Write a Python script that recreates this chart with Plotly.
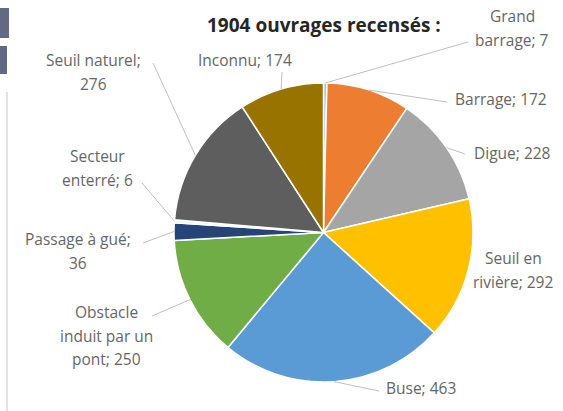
"""
Pie chart: 1904 ouvrages recensés, by type, with Excel-style outside labels.
"""

import math

import plotly.graph_objects as go

W, H = 563, 411

# ─── Data ────────────────────────────────────────────────────────────

categories = [
    "Grand barrage",
    "Barrage",
    "Digue",
    "Seuil en rivière",
    "Buse",
    "Obstacle induit par un pont",
    "Passage à gué",
    "Secteur enterré",
    "Seuil naturel",
    "Inconnu",
]
counts = [7, 172, 228, 292, 463, 250, 36, 6, 276, 174]
colors = [
    "#9DC3E6",
    "#ED7D31",
    "#A5A5A5",
    "#FFC000",
    "#5B9BD5",
    "#70AD47",
    "#264478",
    "#F2F2F2",
    "#5E5E5E",
    "#997300",
]
title_text = f"{sum(counts)} ouvrages recensés :"

# ─── Layout (pixels) ─────────────────────────────────────────────────

CX, CY, R = 323.5, 232.5, 149.5
LINE_STEP = 23.5

# label centre x, first line y, words per line, leader-line start
LABELS = {
    "Grand barrage": (512, 16, [1, 2], (468, 42)),
    "Barrage": (501, 99, [2], (447, 102)),
    "Digue": (512, 153, [2], (465, 154)),
    "Seuil en rivière": (513, 258, [2, 2], None),
    "Buse": (421, 388, [2], (379, 391)),
    "Obstacle induit par un pont": (106, 312, [1, 3, 2], (152, 316)),
    "Passage à gué": (78, 239, [3, 1], (143, 243)),
    "Secteur enterré": (97, 156, [1, 2], (142, 183)),
    "Seuil naturel": (93, 60, [2, 1], (153, 63)),
    "Inconnu": (245, 60, [2], (282, 72)),
}


def px(x, y):
    """Pixel position -> paper coordinates."""
    return x / W, 1 - y / H


fig = go.Figure(
    go.Pie(
        labels=categories,
        values=counts,
        sort=False,
        direction="clockwise",
        rotation=0,
        marker=dict(colors=colors, line=dict(color="#FFFFFF", width=1.5)),
        textinfo="none",
        hovertemplate="<b>%{label}</b>: %{value}<extra></extra>",
        domain=dict(
            x=[(CX - R) / W, (CX + R) / W],
            y=[1 - (CY + R) / H, 1 - (CY - R) / H],
        ),
    )
)

annotations = []
shapes = []

# Title
tx, ty = px(324, 25)
annotations.append(
    dict(
        x=tx, y=ty, xref="paper", yref="paper", showarrow=False,
        xanchor="center", yanchor="middle",
        text=f"<b>{title_text}</b>",
        font=dict(family="Open Sans", size=19, color="#262626"),
    )
)

# Outside labels + leader lines
total = sum(counts)
cum = 0
for name, value in zip(categories, counts):
    mid = (cum + value / 2) / total * 2 * math.pi
    cum += value
    lx, ly, groups, start = LABELS[name]

    words = f"{name}; {value}".split(" ")
    i = 0
    for k, n in enumerate(groups):
        line = " ".join(words[i:i + n])
        i += n
        ax_, ay_ = px(lx, ly + k * LINE_STEP)
        annotations.append(
            dict(
                x=ax_, y=ay_, xref="paper", yref="paper", showarrow=False,
                text=line, xanchor="center", yanchor="middle",
                font=dict(family="Open Sans", size=15.5, color="#666666"),
            )
        )

    if start is not None:
        ex = CX + R * math.sin(mid)
        ey = CY - R * math.cos(mid)
        x0, y0 = px(*start)
        x1, y1 = px(ex, ey)
        shapes.append(
            dict(
                type="line", xref="paper", yref="paper",
                x0=x0, y0=y0, x1=x1, y1=y1,
                line=dict(color="#BFBFBF", width=1),
            )
        )

# Cropped-edge remnants on the left
x0, y0 = px(7, 92)
x1, y1 = px(7, 411)
shapes.append(
    dict(type="line", xref="paper", yref="paper", x0=x0, y0=y0, x1=x1, y1=y1,
         line=dict(color="#D9D9D9", width=1.5))
)
for (bx0, by0, bx1, by1) in [(0, 8, 9, 38), (0, 46, 7, 74)]:
    a, b = px(bx0, by0)
    c, d = px(bx1, by1)
    shapes.append(
        dict(type="rect", xref="paper", yref="paper", x0=a, y0=b, x1=c, y1=d,
             line=dict(width=0), fillcolor="#3A4466", opacity=0.8)
    )

fig.update_layout(
    width=W,
    height=H,
    margin=dict(l=0, r=0, t=0, b=0),
    paper_bgcolor="#FFFFFF",
    plot_bgcolor="#FFFFFF",
    showlegend=False,
    annotations=annotations,
    shapes=shapes,
)

# page body has an 8px default margin; drop it so the figure sits at 0,0
fig.write_html(
    "out.html",
    config={"displayModeBar": False},
    post_script="document.body.style.margin='0';document.body.style.overflow='hidden';",
)
